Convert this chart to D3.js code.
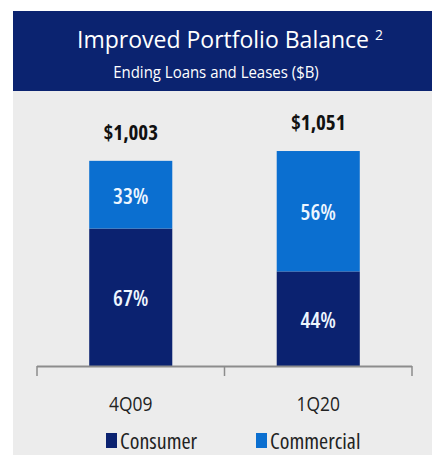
<!DOCTYPE html>
<html>
<head>
<meta charset="utf-8">
<script src="https://cdn.jsdelivr.net/npm/d3@7"></script>
<style>
  html, body { margin: 0; padding: 0; background: #ffffff; }
  svg { display: block; }
  text { font-family: "Open Sans", "DejaVu Sans", sans-serif; font-stretch: 75%; }
</style>
</head>
<body>
<svg id="chart" width="432" height="455"></svg>
<script>
// Ending loans and leases, $B, split by portfolio
const categories = ["4Q09", "1Q20"];
const totals = [1003, 1051];
const consumerPct = [67, 44];
const commercialPct = [33, 56];
const seriesNames = ["Consumer", "Commercial"];

const colors = { Consumer: "#0b2270", Commercial: "#0b6fd0" };
const navy = "#0b2370";

// narrow a text run horizontally by factor k
function squeeze(sel, k) {
  sel.each(function () {
    const len = this.getComputedTextLength();
    d3.select(this).attr("textLength", len * k).attr("lengthAdjust", "spacingAndGlyphs");
  });
}

const svg = d3.select("#chart");

// panel background and header band
svg.append("rect").attr("x", 13).attr("y", 11).attr("width", 419).attr("height", 444).attr("fill", "#ececec");
svg.append("rect").attr("x", 13).attr("y", 11).attr("width", 419).attr("height", 80).attr("fill", navy);

const title = svg.append("text")
  .attr("x", 230).attr("y", 48)
  .attr("text-anchor", "middle")
  .attr("fill", "#ffffff")
  .style("font-size", "23px")
  .style("font-stretch", "100%");
title.append("tspan").text("Improved Portfolio Balance ");
title.append("tspan").attr("dy", -8).style("font-size", "14px").text("2");

svg.append("text")
  .attr("x", 216).attr("y", 78)
  .attr("text-anchor", "middle")
  .attr("fill", "#ffffff")
  .style("font-size", "17px")
  .style("font-stretch", "100%")
  .text("Ending Loans and Leases ($B)")
  .call(squeeze, 0.88);

// scales
const x = d3.scaleBand().domain(categories).range([37, 412]).padding(0);
const y = d3.scaleLinear().domain([0, 1100]).range([366, 141]);
const barW = x.bandwidth() * 0.443;

// stacked data: consumer at the bottom, commercial on top
const rows = categories.map((c, i) => ({
  cat: c,
  total: totals[i],
  Consumer: totals[i] * consumerPct[i] / 100,
  Commercial: totals[i] * commercialPct[i] / 100,
  pct: { Consumer: consumerPct[i], Commercial: commercialPct[i] }
}));
const stack = d3.stack().keys(seriesNames)(rows);

const g = svg.append("g");
stack.forEach(layer => {
  const key = layer.key;
  g.selectAll(null).data(layer).enter().append("rect")
    .attr("x", d => x(d.data.cat) + (x.bandwidth() - barW) / 2)
    .attr("y", d => y(d[1]))
    .attr("width", barW)
    .attr("height", d => y(d[0]) - y(d[1]))
    .attr("fill", colors[key]);
  g.selectAll(null).data(layer).enter().append("text")
    .attr("x", d => x(d.data.cat) + x.bandwidth() / 2)
    .attr("y", d => (y(d[0]) + y(d[1])) / 2 + 9)
    .attr("text-anchor", "middle")
    .attr("fill", "#eef6ff")
    .style("font-size", "22px")
    .style("font-weight", "600")
    .text(d => d.data.pct[key] + "%");
});

// totals above bars
g.selectAll(null).data(rows).enter().append("text")
  .attr("x", d => x(d.cat) + x.bandwidth() / 2)
  .attr("y", d => y(d.total) - 21)
  .attr("text-anchor", "middle")
  .attr("fill", "#111111")
  .style("font-size", "21px")
  .style("font-weight", "bold")
  .text(d => "$" + d3.format(",")(d.total));

// category axis with ticks between the categories
const axis = svg.append("g").attr("transform", "translate(0,366)");
axis.call(d3.axisBottom(x).tickSize(0).tickPadding(31));
axis.select(".domain").remove();
axis.selectAll(".tick text")
  .attr("fill", "#222222")
  .style("font-size", "20px")
  .style("font-family", "'Open Sans', 'DejaVu Sans', sans-serif")
  .style("font-stretch", "100%")
  .call(squeeze, 0.87);
axis.append("line").attr("x1", x.range()[0]).attr("x2", x.range()[1])
  .attr("y1", 0.5).attr("y2", 0.5).attr("stroke", "#8c8c8c").attr("stroke-width", 2);
const bounds = categories.map(c => x(c)).concat([x.range()[1]]);
axis.selectAll(null).data(bounds).enter().append("line")
  .attr("x1", d => d).attr("x2", d => d)
  .attr("y1", 0).attr("y2", 10)
  .attr("stroke", "#8c8c8c").attr("stroke-width", 1.5);

// legend
const legendX = [106, 256];
const lg = svg.append("g");
seriesNames.forEach((s, i) => {
  lg.append("rect").attr("x", legendX[i]).attr("y", 433).attr("width", 11).attr("height", 15).attr("fill", colors[s]);
  lg.append("text").attr("x", legendX[i] + 14).attr("y", 449)
    .attr("fill", "#222222")
    .style("font-size", "22px")
    .text(s);
});
</script>
</body>
</html>
